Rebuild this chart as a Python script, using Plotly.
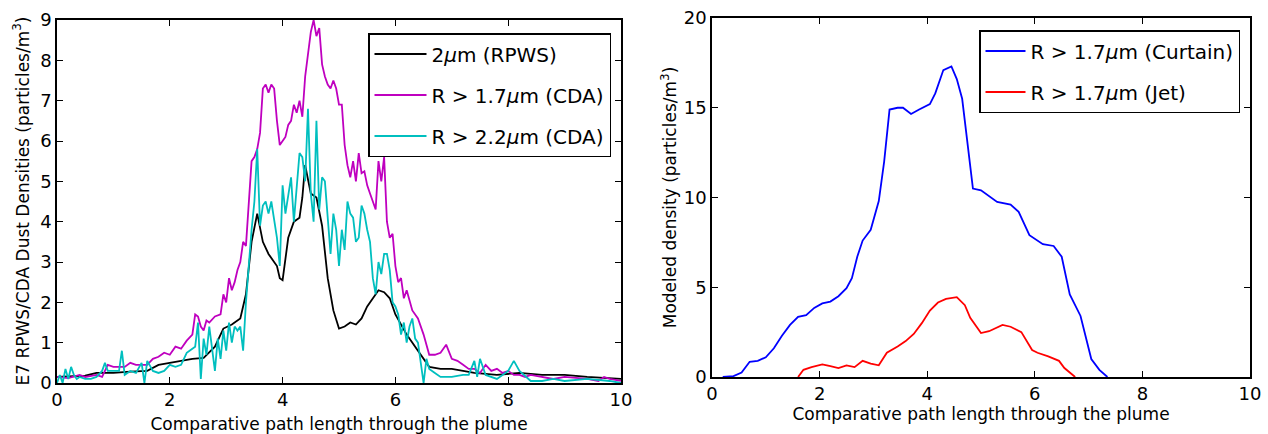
import plotly.graph_objects as go

# ---------- Left panel data ----------
rpws_x = [0.0, 0.5, 0.7, 1.0, 1.3, 1.6, 1.8, 2.0, 2.2, 2.4, 2.6, 2.8, 2.95, 3.1, 3.25, 3.35, 3.45, 3.55,
          3.65, 3.75, 3.9, 3.95, 4.0, 4.1, 4.2, 4.3, 4.35, 4.4, 4.5, 4.6, 4.7, 4.8, 4.9, 5.0, 5.1, 5.2,
          5.3, 5.4, 5.5, 5.6, 5.7, 5.8, 5.9, 6.0, 6.2, 6.4, 6.6, 6.8, 7.0, 7.4, 7.8, 8.2, 8.6, 9.0, 9.4, 10.0]
rpws_y = [0.15, 0.18, 0.25, 0.25, 0.28, 0.3, 0.45, 0.5, 0.55, 0.6, 0.62, 0.9, 1.35, 1.45, 1.6, 2.2, 3.5, 4.2,
          3.5, 3.2, 2.9, 2.6, 2.55, 3.6, 4.0, 4.1, 4.6, 5.4, 4.7, 4.6, 3.9, 2.6, 1.8, 1.35, 1.4, 1.5,
          1.45, 1.6, 1.9, 2.1, 2.3, 2.25, 2.1, 1.7, 1.2, 0.8, 0.4, 0.35, 0.35, 0.25, 0.2, 0.25, 0.2, 0.2, 0.15, 0.1]

cda17_x = [0.0, 0.2, 0.4, 0.5, 0.7, 0.8, 0.9, 1.0, 1.2, 1.3, 1.4, 1.5, 1.6, 1.7, 1.8, 1.9, 2.0, 2.1, 2.2, 2.3,
           2.4, 2.45, 2.5, 2.55, 2.6, 2.65, 2.7, 2.8, 2.9, 2.95, 3.0, 3.05, 3.1, 3.15, 3.2, 3.25, 3.3, 3.35,
           3.4, 3.45, 3.5, 3.55, 3.6, 3.65, 3.7, 3.75, 3.8, 3.85, 3.9, 3.95, 4.0, 4.05, 4.1, 4.15, 4.2, 4.25,
           4.3, 4.35, 4.4, 4.45, 4.5, 4.55, 4.6, 4.65, 4.7, 4.75, 4.8, 4.85, 4.9, 4.95, 5.0, 5.05, 5.1, 5.15,
           5.2, 5.25, 5.3, 5.35, 5.4, 5.45, 5.5, 5.55, 5.6, 5.65, 5.7, 5.75, 5.8, 5.85, 5.9, 5.95, 6.0, 6.05,
           6.1, 6.15, 6.2, 6.3, 6.4, 6.5, 6.6, 6.7, 6.8, 6.9, 7.0, 7.1, 7.2, 7.3, 7.4, 7.5, 7.6, 7.7, 7.8,
           7.9, 8.0, 8.1, 8.2, 8.3, 8.4, 8.6, 8.8, 9.0, 9.2, 9.4, 9.6, 9.7, 9.8, 10.0]
cda17_y = [0.15, 0.12, 0.2, 0.15, 0.2, 0.15, 0.45, 0.4, 0.4, 0.5, 0.45, 0.45, 0.45, 0.6, 0.65, 0.75, 0.7, 0.9, 0.85, 1.05,
           1.2, 1.7, 1.65, 1.4, 1.3, 1.55, 1.5, 1.65, 1.7, 2.2, 2.0, 2.6, 2.3, 2.5, 2.8, 3.0, 3.5, 3.4,
           4.5, 5.5, 5.6, 5.8, 6.2, 7.3, 7.4, 7.2, 7.4, 7.3, 6.5, 5.9, 6.0, 6.1, 6.4, 6.5, 6.9, 6.7,
           7.0, 6.6, 7.6, 8.2, 8.7, 9.0, 8.6, 8.8, 7.9, 7.6, 7.4, 7.3, 7.5, 7.3, 6.9, 6.9, 5.9, 5.4,
           5.1, 5.5, 5.0, 5.7, 5.2, 5.25, 4.9, 4.7, 4.5, 4.3, 5.5, 5.0, 5.6, 4.0, 3.6, 3.7, 2.9, 2.5,
           2.6, 2.1, 2.3, 1.8, 1.6, 1.2, 0.7, 0.7, 0.75, 0.95, 0.6, 0.55, 0.45, 0.35, 0.35, 0.25, 0.45, 0.3, 0.35,
           0.25, 0.3, 0.2, 0.2, 0.15, 0.2, 0.15, 0.1, 0.15, 0.12, 0.1, 0.05, 0.15, 0.1, 0.05]

cda22_x = [0.0, 0.05, 0.1, 0.15, 0.2, 0.25, 0.3, 0.35, 0.4, 0.5, 0.6, 0.7, 0.8, 0.85, 0.9, 1.0, 1.1, 1.15, 1.2,
           1.3, 1.4, 1.5, 1.55, 1.6, 1.7, 1.8, 1.9, 2.0, 2.1, 2.2, 2.3, 2.35, 2.45, 2.5, 2.55, 2.6, 2.65, 2.7,
           2.75, 2.8, 2.85, 2.9, 2.95, 3.0, 3.05, 3.1, 3.15, 3.2, 3.25, 3.3, 3.35, 3.4, 3.45, 3.5, 3.55, 3.6,
           3.65, 3.7, 3.75, 3.8, 3.85, 3.9, 3.95, 4.0, 4.05, 4.1, 4.15, 4.2, 4.25, 4.3, 4.35, 4.4, 4.45, 4.5,
           4.55, 4.6, 4.65, 4.7, 4.75, 4.8, 4.85, 4.9, 4.95, 5.0, 5.05, 5.1, 5.15, 5.2, 5.25, 5.3, 5.35, 5.4,
           5.45, 5.5, 5.55, 5.6, 5.65, 5.7, 5.75, 5.8, 5.85, 5.9, 5.95, 6.0, 6.05, 6.1, 6.15, 6.2, 6.25, 6.3,
           6.35, 6.4, 6.45, 6.5, 6.55, 6.6, 6.7, 6.8, 7.0, 7.2, 7.3, 7.4, 7.45, 7.5, 7.6, 7.8, 8.0, 8.1, 8.2,
           8.4, 8.6, 8.8, 9.0, 9.4, 9.8, 10.0]
cda22_y = [0.0, 0.2, 0.0, 0.35, 0.1, 0.4, 0.2, 0.1, 0.15, 0.1, 0.1, 0.15, 0.3, 0.5, 0.3, 0.3, 0.3, 0.8, 0.2,
           0.3, 0.25, 0.5, 0.0, 0.55, 0.3, 0.25, 0.3, 0.45, 0.4, 0.45, 0.75, 0.8, 0.9, 1.5, 0.1, 1.1, 0.7, 1.4,
           0.8, 0.3, 1.1, 0.6, 1.3, 0.8, 1.5, 1.0, 1.4, 1.3, 1.4, 0.8, 2.0, 3.0, 3.8, 4.5, 5.8, 3.9,
           4.4, 4.5, 4.2, 4.5, 4.1, 3.6, 2.9, 4.9, 4.2, 4.6, 5.1, 4.0, 4.8, 5.7, 5.6, 5.0, 6.8, 4.7,
           4.0, 6.5, 4.3, 5.1, 5.0, 4.0, 3.2, 4.2, 3.8, 2.9, 3.8, 3.3, 4.5, 4.2, 4.1, 3.5, 3.6, 4.4,
           4.2, 3.8, 3.5, 2.6, 2.2, 3.0, 2.7, 3.2, 3.2, 2.8, 2.0, 1.9, 1.7, 1.2, 1.5, 1.0, 1.4, 1.6,
           1.1, 1.0, 0.5, 0.0, 0.6, 0.35, 0.25, 0.15, 0.15, 0.2, 0.2, 0.55, 0.15, 0.6, 0.2, 0.1, 0.3, 0.55, 0.3,
           0.05, 0.05, 0.1, 0.05, 0.1, 0.05, 0.0]

# ---------- Right panel data ----------
curtain_x = [0.2, 0.4, 0.55, 0.7, 0.85, 1.0, 1.15, 1.3, 1.45, 1.6, 1.75, 1.9, 2.05, 2.2, 2.35, 2.5, 2.6, 2.7,
             2.8, 2.95, 3.1, 3.2, 3.3, 3.45, 3.55, 3.7, 3.85, 4.05, 4.15, 4.3, 4.45, 4.55, 4.65, 4.75, 4.85,
             5.0, 5.15, 5.3, 5.55, 5.7, 5.9, 6.0, 6.15, 6.35, 6.5, 6.65, 6.85, 7.05, 7.2, 7.35]
curtain_y = [0.0, 0.05, 0.25, 0.85, 0.9, 1.1, 1.6, 2.3, 2.9, 3.35, 3.45, 3.85, 4.1, 4.2, 4.5, 4.95, 5.5, 6.7,
             7.6, 8.2, 9.8, 12.0, 14.9, 15.0, 15.0, 14.65, 14.9, 15.2, 15.8, 17.1, 17.3, 16.6, 15.5, 13.0, 10.5,
             10.4, 10.1, 9.75, 9.6, 9.2, 7.9, 7.7, 7.4, 7.3, 6.7, 4.6, 3.4, 1.0, 0.4, 0.0]

jet_x = [1.6, 1.7, 1.85, 2.05, 2.2, 2.35, 2.5, 2.65, 2.8, 2.95, 3.1, 3.25, 3.45, 3.6, 3.75, 3.9, 4.05, 4.2,
         4.35, 4.55, 4.7, 4.8, 5.0, 5.15, 5.4, 5.55, 5.75, 5.95, 6.05, 6.25, 6.45, 6.55, 6.75]
jet_y = [0.0, 0.4, 0.55, 0.7, 0.6, 0.5, 0.65, 0.55, 0.9, 0.75, 0.65, 1.35, 1.7, 2.0, 2.4, 3.0, 3.7, 4.15,
         4.35, 4.45, 4.0, 3.3, 2.45, 2.55, 2.9, 2.8, 2.5, 1.5, 1.35, 1.15, 0.9, 0.5, 0.0]

x_ticks = [0, 2, 4, 6, 8, 10]
left_y_ticks = [0, 1, 2, 3, 4, 5, 6, 7, 8, 9]
right_y_ticks = [0, 5, 10, 15, 20]

FONT = "DejaVu Sans"
LW = 1.8

W, H = 1268, 434
ML, MR, MT, MB = 57, 18, 18, 51
PW, PH = W - ML - MR, H - MT - MB


def xd(px):
    return (px - ML) / PW


def yd(py):
    return (H - MB - py) / PH


fig = go.Figure()
fig.add_trace(go.Scatter(x=rpws_x, y=rpws_y, mode="lines", name="2<i>μ</i>m (RPWS)",
                         line=dict(color="#000000", width=LW), legend="legend", legendgroup="a"))
fig.add_trace(go.Scatter(x=cda17_x, y=cda17_y, mode="lines", name="R > 1.7<i>μ</i>m (CDA)",
                         line=dict(color="#bf00bf", width=LW), legend="legend", legendgroup="b"))
fig.add_trace(go.Scatter(x=cda22_x, y=cda22_y, mode="lines", name="R > 2.2<i>μ</i>m (CDA)",
                         line=dict(color="#00bfbf", width=LW), legend="legend", legendgroup="c"))
fig.add_trace(go.Scatter(x=curtain_x, y=curtain_y, mode="lines", name="R > 1.7<i>μ</i>m (Curtain)",
                         line=dict(color="#0000ff", width=LW), xaxis="x2", yaxis="y2",
                         legend="legend2", legendgroup="d"))
fig.add_trace(go.Scatter(x=jet_x, y=jet_y, mode="lines", name="R > 1.7<i>μ</i>m (Jet)",
                         line=dict(color="#ff0000", width=LW), xaxis="x2", yaxis="y2",
                         legend="legend2", legendgroup="e"))

axis_common = dict(showline=True, linecolor="black", linewidth=1.5, mirror="allticks",
                   ticks="inside", ticklen=6, tickwidth=1, tickcolor="black", automargin=False,
                   showgrid=False, zeroline=False, tickfont=dict(family=FONT, size=18, color="black"))

title_font = dict(family=FONT, size=17, color="black")

fig.update_layout(
    width=W, height=H,
    margin=dict(l=ML, r=MR, t=MT, b=MB),
    paper_bgcolor="white", plot_bgcolor="white",
    font=dict(family=FONT, color="black"),
    xaxis=dict(domain=[xd(57), xd(621)], range=[0, 10], tickvals=x_ticks, anchor="y",
               title=dict(text="Comparative path length through the plume", font=title_font, standoff=9),
               **axis_common),
    yaxis=dict(domain=[yd(383), yd(20)], range=[0, 9], tickvals=left_y_ticks, anchor="x",
               **axis_common),
    xaxis2=dict(domain=[xd(712), xd(1250)], range=[0, 10], tickvals=x_ticks, anchor="y2",
                title=dict(text="Comparative path length through the plume", font=title_font, standoff=1),
                **axis_common),
    yaxis2=dict(domain=[yd(377), yd(18)], range=[0, 20], tickvals=right_y_ticks, anchor="x2",
                title=dict(text="Modeled density (particles/m<sup>3</sup>)", font=title_font, standoff=3),
                **axis_common),
    legend=dict(x=xd(611), y=yd(33), xanchor="right", yanchor="top", itemwidth=52,
                bordercolor="black", borderwidth=1.5, bgcolor="white",
                font=dict(family=FONT, size=20, color="black"), tracegroupgap=12),
    legend2=dict(x=xd(1240), y=yd(30), xanchor="right", yanchor="top", itemwidth=40,
                 bordercolor="black", borderwidth=1.5, bgcolor="white",
                 font=dict(family=FONT, size=20, color="black"), tracegroupgap=12),
    annotations=[dict(text="E7 RPWS/CDA Dust Densities (particles/m<sup>3</sup>)",
                      xref="paper", yref="paper", x=xd(21), y=yd(201.5),
                      xanchor="center", yanchor="middle", textangle=-90,
                      showarrow=False, font=title_font)],
)

fig.write_html("out.html", config={"displayModeBar": False},
               post_script="document.body.style.margin='0px';document.body.style.padding='0px';")
